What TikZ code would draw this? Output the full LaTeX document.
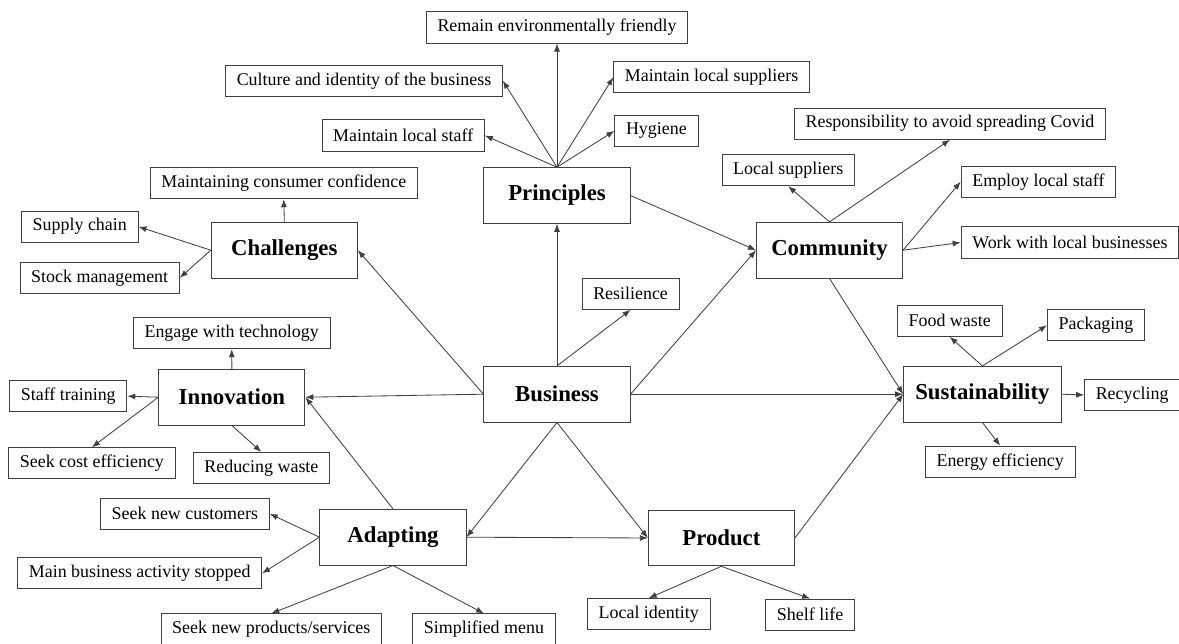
\documentclass[tikz,border=0pt]{standalone}
\usepackage{fontspec}
\setmainfont{Liberation Serif}
\usetikzlibrary{arrows.meta,positioning}

\tikzset{
  subbox/.style={draw=black!75, line width=0.6pt, inner xsep=0.28cm, inner ysep=0pt,
    minimum height=0.78cm, font=\fontsize{12.75}{14}\selectfont},
  mainbox/.style={draw=black!75, line width=0.7pt, inner xsep=0.29cm, inner ysep=0pt,
    minimum width=3.65cm, minimum height=1.39cm, font=\fontsize{16.2}{18}\selectfont\bfseries},
  arr/.style={-{Latex[length=2mm,width=1.5mm]}, draw=black!75, line width=0.6pt}
}

\begin{document}
\begin{tikzpicture}[x=0.025cm, y=-0.025cm]
\useasboundingbox (0,0) rectangle (1179,644);

% Main themes
\node[mainbox] (business) at (557, 394.2) {Business};
\node[mainbox] (principles) at (557, 195.5) {Principles};
\node[mainbox] (challenges) at (284.3, 250.2) {Challenges};
\node[mainbox] (community) at (829.5, 250.2) {Community};
\node[mainbox] (innovation) at (231.9, 397.2) {Innovation};
\node[mainbox] (sustain) at (982.4, 394.2) {Sustainability};
\node[mainbox] (adapting) at (393, 537.2) {Adapting};
\node[mainbox] (product) at (721.4, 538) {Product};

% Principles
\node[subbox] (remain) at (557, 27.5) {Remain environmentally friendly};
\node[subbox] (culture) at (364, 80.7) {Culture and identity of the business};
\node[subbox] (mlstaff) at (403.2, 135.5) {Maintain local staff};
\node[subbox] (msupp) at (711.6, 77.3) {Maintain local suppliers};
\node[subbox] (hygiene) at (656.4, 130.9) {Hygiene};

% Challenges
\node[subbox] (confidence) at (283.8, 183.2) {Maintaining consumer confidence};
\node[subbox] (supply) at (79.8, 226.7) {Supply chain};
\node[subbox] (stock) at (99.7, 277.8) {Stock management};

% Community
\node[subbox] (covid) at (950, 123.7) {Responsibility to avoid spreading Covid};
\node[subbox] (localsupp) at (788.2, 170.2) {Local suppliers};
\node[subbox] (employ) at (1038.4, 181.7) {Employ local staff};
\node[subbox] (worklocal) at (1069.9, 242.5) {Work with local businesses};

% Business
\node[subbox] (resilience) at (630.6, 293.8) {Resilience};

% Innovation
\node[subbox] (engage) at (231.7, 333.2) {Engage with technology};
\node[subbox] (training) at (68.3, 396.2) {Staff training};
\node[subbox] (costeff) at (91.9, 463.3) {Seek cost efficiency};
\node[subbox] (reducing) at (261.4, 468) {Reducing waste};

% Sustainability
\node[subbox] (foodwaste) at (949.7, 320.8) {Food waste};
\node[subbox] (packaging) at (1096, 325.3) {Packaging};
\node[subbox] (recycling) at (1132.1, 395) {Recycling};
\node[subbox] (energy) at (1000.2, 461.7) {Energy efficiency};

% Adapting
\node[subbox] (newcust) at (184.9, 513.8) {Seek new customers};
\node[subbox] (stopped) at (139.7, 573.3) {Main business activity stopped};
\node[subbox] (newprod) at (271.3, 629.5) {Seek new products/services};
\node[subbox] (simplified) at (484, 629.5) {Simplified menu};

% Product
\node[subbox] (localid) at (648.7, 614.2) {Local identity};
\node[subbox] (shelflife) at (810.1, 614.7) {Shelf life};

% Links from Business
\foreach \t in {principles.south, resilience.south} \draw[arr] (business.north) -- (\t);
\foreach \t in {challenges.east, innovation.east} \draw[arr] (business.west) -- (\t);
\foreach \t in {community.west, sustain.west} \draw[arr] (business.east) -- (\t);
\foreach \t in {adapting.east, product.west} \draw[arr] (business.south) -- (\t);

% Links between themes
\draw[arr] (principles.east) -- (community.west);
\draw[arr] (community.south) -- (sustain.west);
\draw[arr] (adapting.north) -- (innovation.east);
\draw[arr] (adapting.east) -- (product.west);
\draw[arr] (product.east) -- (sustain.west);

% Principles
\foreach \t in {remain.south, culture.east, mlstaff.east, msupp.west, hygiene.west}
  \draw[arr] (principles.north) -- (\t);

% Challenges
\draw[arr] (challenges.north) -- (confidence.south);
\foreach \t in {supply.east, stock.east} \draw[arr] (challenges.west) -- (\t);

% Community
\foreach \t in {localsupp.south, covid.south} \draw[arr] (community.north) -- (\t);
\foreach \t in {employ.west, worklocal.west} \draw[arr] (community.east) -- (\t);

% Sustainability
\foreach \t in {foodwaste.south, packaging.west} \draw[arr] (sustain.north) -- (\t);
\draw[arr] (sustain.east) -- (recycling.west);
\draw[arr] (sustain.south) -- (energy.north);

% Innovation
\draw[arr] (innovation.north) -- (engage.south);
\foreach \t in {training.east, costeff.north} \draw[arr] (innovation.west) -- (\t);
\draw[arr] (innovation.south) -- (reducing.north);

% Adapting
\foreach \t in {newcust.east, stopped.east} \draw[arr] (adapting.west) -- (\t);
\foreach \t in {newprod.north, simplified.north} \draw[arr] (adapting.south) -- (\t);

% Product
\foreach \t in {localid.north, shelflife.north} \draw[arr] (product.south) -- (\t);

\end{tikzpicture}
\end{document}
